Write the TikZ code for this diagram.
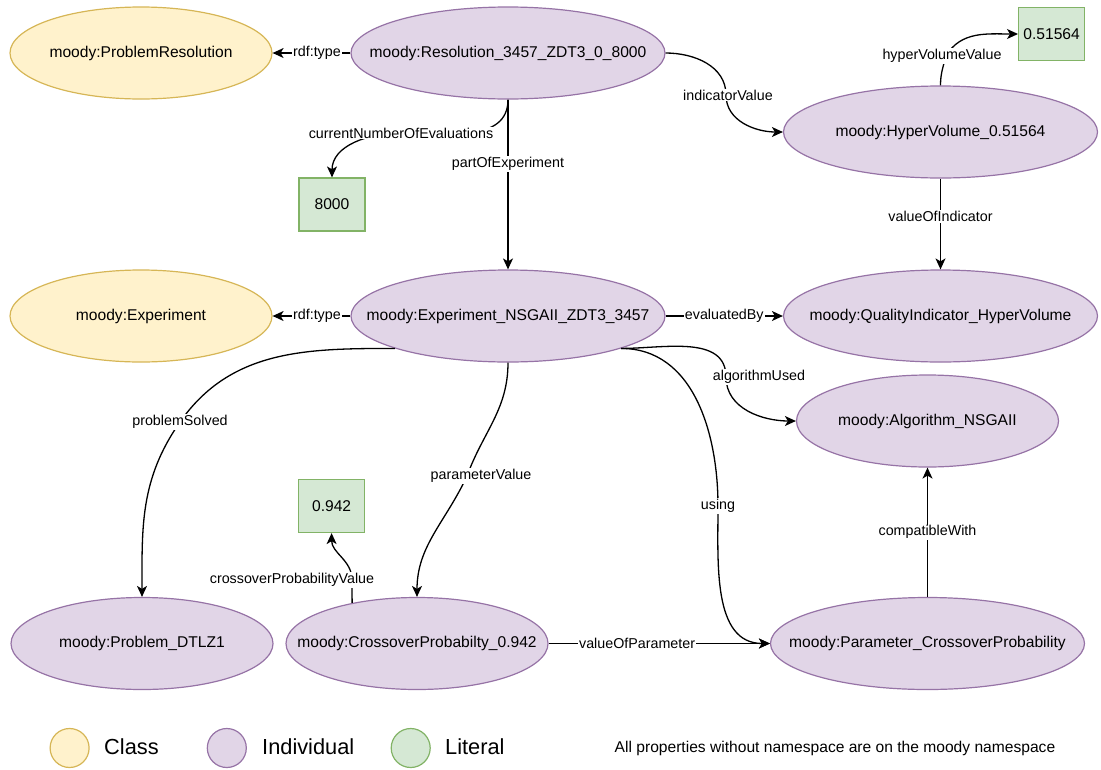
\documentclass[tikz,border=0pt]{standalone}
\usepackage{fontspec}
\setmainfont{Liberation Sans}
\usetikzlibrary{shapes.geometric,arrows.meta}

\definecolor{classfill}{HTML}{FFF2CC}
\definecolor{classline}{HTML}{D6B656}
\definecolor{indfill}{HTML}{E1D5E7}
\definecolor{indline}{HTML}{9673A6}
\definecolor{litfill}{HTML}{D5E8D4}
\definecolor{litline}{HTML}{82B366}

\begin{document}
\begin{tikzpicture}[x=1pt,y=1pt,
    onto/.style={line width=1.3pt,-{Stealth[length=11pt,width=10pt,inset=3pt]}},
    lbl/.style={fill=white,inner sep=1pt,font=\fontsize{14.3}{16}\selectfont},
    centred/.style={inner sep=0pt,font=\fontsize{15.6}{18}\selectfont,
        execute at begin node={\hbox to 0pt\bgroup\hss},execute at end node={\hss\egroup}},
    class/.style={centred,ellipse,draw=classline,fill=classfill,line width=1.2pt,
        minimum width=262pt,minimum height=92pt},
    indiv/.style={centred,ellipse,draw=indline,fill=indfill,line width=1.2pt,
        minimum width=262pt,minimum height=92pt},
    wide/.style={indiv,minimum width=314pt},
    literal/.style={centred,rectangle,draw=litline,fill=litfill,line width=1.2pt,
        minimum width=66pt,minimum height=53pt},
    legend/.style={circle,line width=1.2pt,minimum size=39pt,inner sep=0pt},
    legtext/.style={anchor=west,inner sep=0pt,font=\fontsize{21.8}{25}\selectfont}]

    \useasboundingbox (0,0) rectangle (1101,-769);

    \node[class] (PR) at (141,-53) {moody:ProblemResolution};
    \node[wide] (Res) at (508,-53) {moody:Resolution\_3457\_ZDT3\_0\_8000};
    \node[literal] (Evals) at (332,-204.5) {8000};
    \node[wide] (HV) at (940.5,-132) {moody:HyperVolume\_0.51564};
    \node[literal] (HVval) at (1051.6,-34) {0.51564};

    \node[class] (ExpC) at (141,-316) {moody:Experiment};
    \node[wide] (Exp) at (508,-316) {moody:Experiment\_NSGAII\_ZDT3\_3457};
    \node[wide] (QI) at (940.5,-316) {moody:QualityIndicator\_HyperVolume};
    \node[indiv] (Alg) at (927.5,-421) {moody:Algorithm\_NSGAII};

    \node[literal] (CPval) at (331.6,-506) {0.942};
    \node[indiv] (Prob) at (142,-643.5) {moody:Problem\_DTLZ1};
    \node[indiv] (CP) at (417,-643.5) {moody:CrossoverProbabilty\_0.942};
    \node[wide] (Param) at (927.5,-643.5) {moody:Parameter\_CrossoverProbability};

    % bend points of the curved edges
    \coordinate (cEval) at (401,-133);
    \coordinate (cInd) at (726,-95);
    \coordinate (cHyp) at (946,-56);
    \coordinate (cProb) at (180,-422);
    \coordinate (cPar) at (467,-476);
    \coordinate (cAlg) at (726,-377);
    \coordinate (cUse) at (718,-506);
    \coordinate (cCross) at (352,-580);

    \draw[onto] (Res) -- node[lbl,pos=0.43]{rdf:type} (PR);
    \draw[onto] (Res.south) to[out=-90,in=0] (cEval) node[lbl]{currentNumberOfEvaluations}
        to[out=180,in=90] (Evals.north);
    \draw[onto] (Res) -- node[lbl,pos=0.38]{partOfExperiment} (Exp);
    \draw[onto] (Res.east) to[out=0,in=90] (cInd) node[lbl,xshift=2pt]{indicatorValue}
        to[out=-90,in=180] (HV.west);
    \draw[onto] (HV.north) to[out=90,in=-105] (cHyp) node[lbl,xshift=-4pt]{hyperVolumeValue}
        to[out=60,in=180] (HVval.west);
    \draw[onto] (HV) -- node[lbl,pos=0.42]{valueOfIndicator} (QI);

    \draw[onto] (Exp) -- node[lbl,pos=0.43]{rdf:type} (ExpC);
    \draw[onto] (Exp) -- node[lbl]{evaluatedBy} (QI);
    \draw[onto] (Exp.196) to[out=180,in=55] (cProb) node[lbl]{problemSolved}
        to[out=235,in=90] (Prob.north);
    \draw[onto] (Exp.south) to[out=-90,in=70] (cPar) node[lbl,xshift=14pt]{parameterValue}
        to[out=245,in=90] (CP.north);
    \draw[onto] (Exp.-16) to[out=0,in=90] (cAlg) node[lbl,xshift=33pt]{algorithmUsed}
        to[out=-90,in=180] (Alg.west);
    \draw[onto] (Exp.-16) to[out=0,in=90] (cUse) node[lbl]{using}
        to[out=-90,in=180] (Param.west);

    \draw[onto] (CP.148) -- (cCross) node[lbl,xshift=-60pt]{crossoverProbabilityValue}
        to[out=90,in=-90] (CPval.south);
    \draw[onto] (CP) -- node[lbl,pos=0.4]{valueOfParameter} (Param);
    \draw[onto] (Param) -- node[lbl]{compatibleWith} (Alg);

    % legend
    \node[legend,draw=classline,fill=classfill] (legC) at (69.6,-748) {};
    \node[legtext] (legCt) at (104,-747) {Class};
    \node[legend,draw=indline,fill=indfill] (legI) at (226.8,-748) {};
    \node[legtext] (legIt) at (262,-747) {Individual};
    \node[legend,draw=litline,fill=litfill] (legL) at (410.7,-748) {};
    \node[legtext] (legLt) at (445,-747) {Literal};
    \node[font=\fontsize{15.6}{18}\selectfont] (note) at (835,-748)
        {All properties without namespace are on the moody namespace};

\end{tikzpicture}
\end{document}
